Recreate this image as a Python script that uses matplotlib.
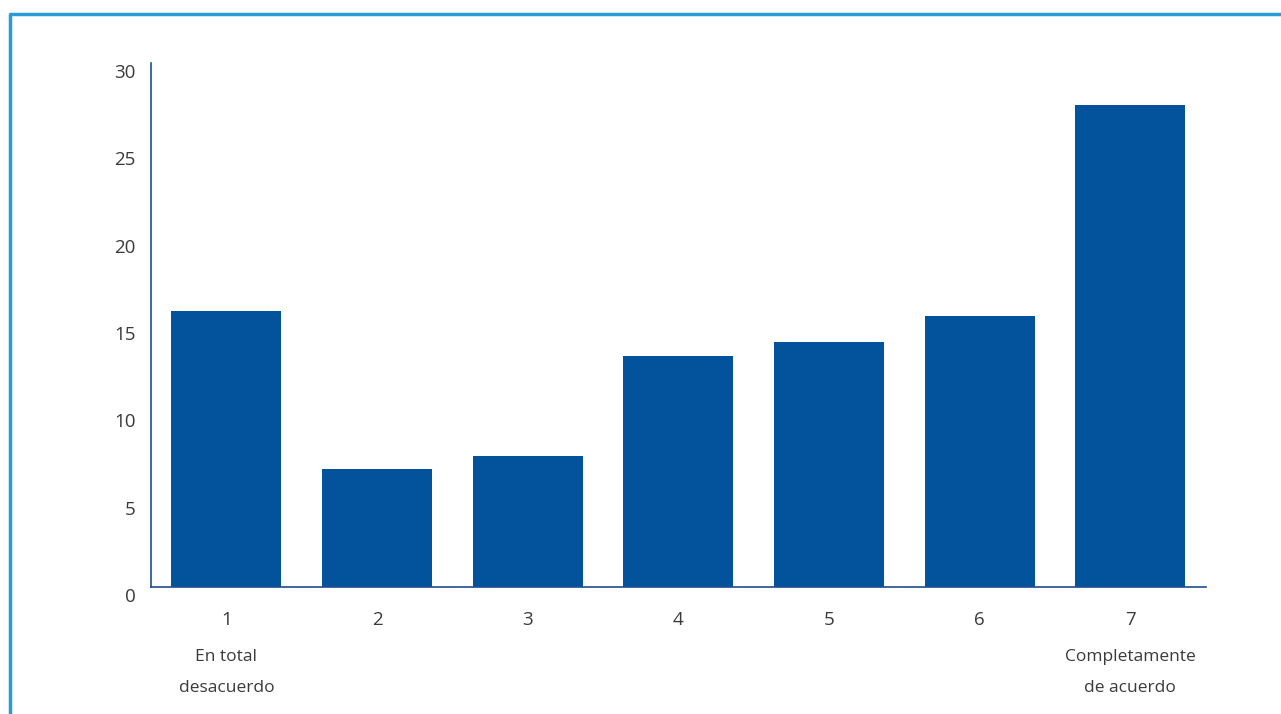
import matplotlib.pyplot as plt
from matplotlib.lines import Line2D
from matplotlib.transforms import ScaledTranslation

# datos
categorias = [1, 2, 3, 4, 5, 6, 7]
valores = [15.8, 6.75, 7.5, 13.2, 14.0, 15.5, 27.6]
etiquetas_y = [0, 5, 10, 15, 20, 25, 30]
nota_izq = ["En total", "desacuerdo"]
nota_der = ["Completamente", "de acuerdo"]

azul_barra = "#03539c"
azul_eje = "#1d4f8f"
azul_marco = "#2b9ad8"
gris = "#3a3a3a"

plt.rcParams['font.family'] = ['Open Sans', 'DejaVu Sans']

fig = plt.figure(figsize=(12.81, 7.14), dpi=100)
ax = fig.add_axes([0.1179, 0.1775, 0.9412 - 0.1179, 0.9122 - 0.1775])

ax.bar(categorias, valores, width=0.73, color=azul_barra)

ax.set_xlim(0.5, 7.5)
ax.set_ylim(0, 30)
ax.set_yticks(etiquetas_y)
ax.set_xticks(categorias)
ax.set_xticklabels([str(c) for c in categorias])

for s in ["top", "right"]:
    ax.spines[s].set_visible(False)
ax.spines["left"].set_color(azul_eje)
ax.spines["bottom"].set_color(azul_eje)
ax.spines["left"].set_linewidth(1.2)
ax.spines["bottom"].set_linewidth(1.2)

ax.tick_params(axis="both", length=0, labelsize=13.5, labelcolor=gris)
ax.tick_params(axis="y", pad=11)
ax.tick_params(axis="x", pad=17)

# las etiquetas del eje y estan algo por debajo de su valor
desplazar = ScaledTranslation(0, -8 / 100, fig.dpi_scale_trans)
for lab in ax.get_yticklabels():
    lab.set_transform(lab.get_transform() + desplazar)

# textos bajo el 1 y el 7
trans = ax.get_xaxis_transform()
for x, lineas in [(1, nota_izq), (7, nota_der)]:
    for y, t in zip([-0.133, -0.192], lineas):
        ax.text(x, y, t, transform=trans, ha="center", va="center",
                fontsize=12.5, color=gris)

# marco azul arriba e izquierda
x0 = 10 / 1281
y0 = 1 - 14 / 714
fig.add_artist(Line2D([x0, x0, 1], [0, y0, y0], transform=fig.transFigure,
                      color=azul_marco, linewidth=2.5))

fig.savefig("out.png", dpi=100)
